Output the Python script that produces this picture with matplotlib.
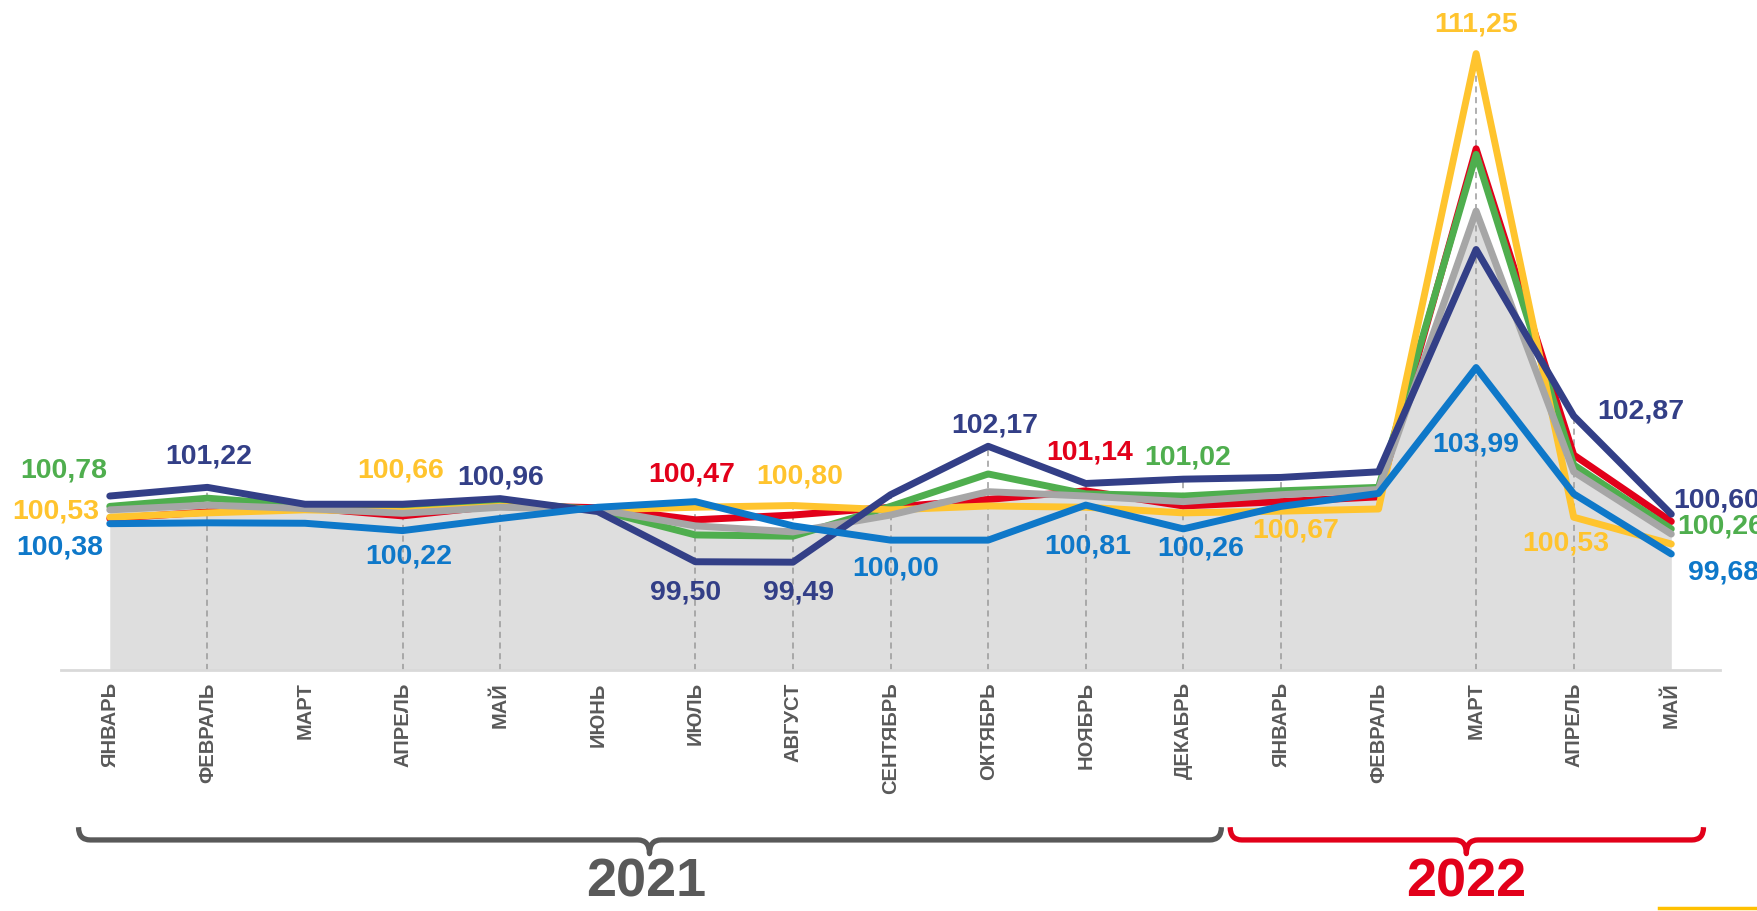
import matplotlib
matplotlib.use('Agg')
import matplotlib.pyplot as plt
from matplotlib.path import Path
from matplotlib.patches import PathPatch
from matplotlib.transforms import blended_transform_factory
from matplotlib.lines import Line2D

# --- data ---
months = ['ЯНВАРЬ', 'ФЕВРАЛЬ', 'МАРТ', 'АПРЕЛЬ', 'МАЙ', 'ИЮНЬ', 'ИЮЛЬ', 'АВГУСТ',
          'СЕНТЯБРЬ', 'ОКТЯБРЬ', 'НОЯБРЬ', 'ДЕКАБРЬ',
          'ЯНВАРЬ', 'ФЕВРАЛЬ', 'МАРТ', 'АПРЕЛЬ', 'МАЙ']

navy = [101.02, 101.22, 100.83, 100.83, 100.96, 100.66, 99.50, 99.49, 101.05,
        102.17, 101.31, 101.41, 101.45, 101.58, 106.72, 102.87, 100.60]
red = [100.50, 100.65, 100.75, 100.56, 100.80, 100.75, 100.47, 100.58, 100.76,
       100.94, 101.14, 100.79, 100.89, 101.00, 109.05, 101.97, 100.43]
green = [100.78, 100.97, 100.80, 100.72, 100.89, 100.70, 100.12, 100.09, 100.78,
         101.53, 101.07, 101.02, 101.14, 101.22, 108.92, 101.74, 100.26]
yellow = [100.53, 100.63, 100.70, 100.66, 100.78, 100.70, 100.76, 100.80, 100.70,
          100.79, 100.76, 100.63, 100.67, 100.72, 111.25, 100.53, 99.91]
gray = [100.70, 100.81, 100.73, 100.62, 100.76, 100.71, 100.33, 100.19, 100.58,
        101.12, 101.02, 100.89, 101.05, 101.17, 107.61, 101.58, 100.14]
blue = [100.38, 100.40, 100.39, 100.22, 100.50, 100.76, 100.89, 100.33, 100.00,
        100.00, 100.81, 100.26, 100.78, 101.08, 103.99, 101.07, 99.68]

# months that get a dashed drop line
drop_idx = [1, 3, 4, 6, 7, 8, 9, 10, 11, 12, 14, 15]

C_NAVY = '#333F87'
C_RED = '#E2001A'
C_GREEN = '#4FAE4E'
C_YELLOW = '#FFC42E'
C_GRAY = '#A6A6A6'
C_BLUE = '#0E78C9'

series = {'navy': (navy, C_NAVY), 'red': (red, C_RED), 'green': (green, C_GREEN),
          'yellow': (yellow, C_YELLOW), 'gray': (gray, C_GRAY), 'blue': (blue, C_BLUE)}

# data labels: series, month index, offset in pixels, alignment
labels = [
    ('green', 0, (-46, 36), 'center'),
    ('yellow', 0, (-54, 6), 'center'),
    ('blue', 0, (-50, -24), 'center'),
    ('navy', 1, (1, 31), 'center'),
    ('yellow', 3, (-2, 41), 'center'),
    ('blue', 3, (6, -26), 'center'),
    ('navy', 4, (0, 21), 'center'),
    ('red', 6, (-4, 45), 'center'),
    ('navy', 6, (-10, -31), 'center'),
    ('yellow', 7, (7, 29), 'center'),
    ('navy', 7, (6, -30), 'center'),
    ('blue', 8, (5, -28), 'center'),
    ('navy', 9, (7, 21), 'center'),
    ('red', 10, (4, 38), 'center'),
    ('blue', 10, (2, -41), 'center'),
    ('green', 11, (4, 39), 'center'),
    ('blue', 11, (17, -20), 'center'),
    ('yellow', 12, (15, -19), 'center'),
    ('yellow', 14, (0, 29), 'center'),
    ('blue', 14, (0, -77), 'center'),
    ('navy', 15, (67, 5), 'center'),
    ('yellow', 15, (-8, -26), 'center'),
    ('navy', 16, (2, 14), 'left'),
    ('green', 16, (6, 2), 'left'),
    ('blue', 16, (17, -19), 'left'),
]

plt.rcParams['font.family'] = ['Liberation Sans', 'DejaVu Sans']

fig = plt.figure(figsize=(17.57, 9.11), dpi=100)
ax = fig.add_axes([0.0347, 0.2647, 0.9443, 0.7353])
x = list(range(len(months)))
ymin = 97.0
ax.set_xlim(-0.5, 16.5)
ax.set_ylim(ymin, 112.49)

# gray area under the gray series
ax.fill_between(x, ymin, gray, color='#DEDEDE', lw=0, zorder=1)

# dashed drop lines
for i in drop_idx:
    top = max(v[0][i] for v in series.values())
    ax.vlines(i, ymin, top, colors='#9A9A9A', linestyles=(0, (4, 3)), lw=1.1, zorder=2)

for name in ['red', 'green', 'yellow', 'gray', 'navy', 'blue']:
    vals, col = series[name]
    ax.plot(x, vals, color=col, lw=5, solid_joinstyle='round',
            solid_capstyle='round', zorder=3)

for name, i, off, ha in labels:
    vals, col = series[name]
    txt = f'{vals[i]:.2f}'.replace('.', ',')
    ax.annotate(txt, (i, vals[i]), xytext=off, textcoords='offset pixels',
                ha=ha, va='center', color=col, fontsize=20.5, fontweight='bold',
                annotation_clip=False, zorder=5)

# axis
for s in ['top', 'right', 'left']:
    ax.spines[s].set_visible(False)
ax.spines['bottom'].set_color('#D9D9D9')
ax.spines['bottom'].set_linewidth(2)
ax.set_yticks([])
ax.set_xticks(x)
ax.set_xticklabels(months, rotation=90, fontsize=14.5, fontweight='bold', color='#595959')
ax.tick_params(axis='x', length=0, pad=9)


# curly braces under the months
def brace(x0, x1, xc, color):
    tr = blended_transform_factory(ax.transData, fig.transFigure)
    yt, ym, yb = 0.092, 0.078, 0.063
    d = 0.12
    verts = [(x0, yt), (x0, ym), (x0 + d, ym),
             (xc - d, ym), (xc, ym), (xc, yb),
             (xc, ym), (xc + d, ym),
             (x1 - d, ym), (x1, ym), (x1, yt)]
    codes = [Path.MOVETO, Path.CURVE3, Path.CURVE3,
             Path.LINETO, Path.CURVE3, Path.CURVE3,
             Path.CURVE3, Path.CURVE3,
             Path.LINETO, Path.CURVE3, Path.CURVE3]
    p = PathPatch(Path(verts, codes), fill=False, edgecolor=color, lw=3.8,
                  transform=tr, clip_on=False, capstyle='butt', joinstyle='round')
    ax.add_patch(p)


brace(-0.32, 11.39, 5.53, '#595959')
brace(11.48, 16.33, 13.9, C_RED)

tr = blended_transform_factory(ax.transData, fig.transFigure)
ax.text(5.5, 0.004, '2021', transform=tr, ha='center', va='bottom', fontsize=39,
        fontweight='bold', color='#595959', family=['Liberation Sans Narrow', 'Liberation Sans'])
ax.text(13.9, 0.004, '2022', transform=tr, ha='center', va='bottom', fontsize=39,
        fontweight='bold', color=C_RED, family=['Liberation Sans Narrow', 'Liberation Sans'])

# small yellow line at the bottom right corner
fig.add_artist(Line2D([0.944, 1.0], [0.0035, 0.0035], color='#FFC000', lw=2.5))

fig.savefig('out.png', dpi=100)
